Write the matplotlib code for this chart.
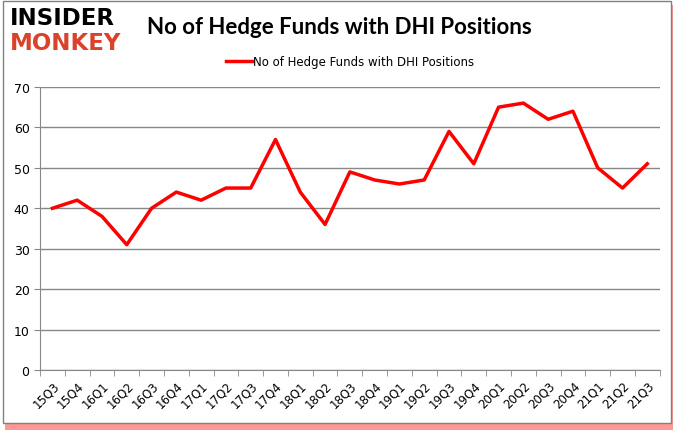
import matplotlib.pyplot as plt
from matplotlib.patches import Rectangle

quarters = ['15Q3', '15Q4', '16Q1', '16Q2', '16Q3', '16Q4', '17Q1', '17Q2', '17Q3',
            '17Q4', '18Q1', '18Q2', '18Q3', '18Q4', '19Q1', '19Q2', '19Q3', '19Q4',
            '20Q1', '20Q2', '20Q3', '20Q4', '21Q1', '21Q2', '21Q3']
funds = [40, 42, 38, 31, 40, 44, 42, 45, 45, 57, 44, 36, 49, 47, 46, 47, 59, 51,
         65, 66, 62, 64, 50, 45, 51]
label = 'No of Hedge Funds with DHI Positions'

fig = plt.figure(figsize=(6.78, 4.31), dpi=100)

# frame with red shadow
fig.patches.append(Rectangle((0.008, 0.0), 0.985, 0.985, transform=fig.transFigure,
                             facecolor='#ff3030', edgecolor='none', alpha=0.5, zorder=-2))
fig.patches.append(Rectangle((0.004, 0.016), 0.985, 0.98, transform=fig.transFigure,
                             facecolor='white', edgecolor='#808080', linewidth=1, zorder=-1))

ax = fig.add_axes([0.059, 0.139, 0.914, 0.657])
x = list(range(len(quarters)))
ax.plot(x, funds, color='#ff0000', linewidth=2.5, label=label)

ax.set_xlim(-0.5, len(quarters) - 0.5)
ax.set_ylim(0, 70)
ax.set_yticks(range(0, 71, 10))
ax.set_xticks(x)
ax.set_xticklabels(quarters, rotation=45, ha='right', rotation_mode='anchor', fontsize=8.5)
ax.set_xticks([i - 0.5 for i in range(len(quarters) + 1)], minor=True)
ax.tick_params(axis='x', which='major', length=0, pad=6)
ax.tick_params(axis='x', which='minor', length=4, color='#888888')
ax.tick_params(axis='y', length=4, color='#888888', labelsize=9)
ax.grid(axis='y', color='#888888', linewidth=1)
ax.set_axisbelow(True)
for s in ['top', 'right']:
    ax.spines[s].set_visible(False)
for s in ['left', 'bottom']:
    ax.spines[s].set_color('#888888')

fig.text(0.5, 0.937, label, ha='center', va='center', fontsize=16, fontweight='bold',
         family='Lato')
ax.legend(loc='center', bbox_to_anchor=(0.5, 1.091), frameon=False, fontsize=8.5,
          handlelength=2.2, handletextpad=0.1)

fig.text(0.015, 0.956, 'INSIDER', ha='left', va='center', fontsize=16.5, fontweight='heavy',
         color='black', family='DejaVu Sans')
fig.text(0.015, 0.9, 'MONKEY', ha='left', va='center', fontsize=16.5, fontweight='heavy',
         color='#d9432b', family='DejaVu Sans')

fig.savefig('out.png', dpi=100)
